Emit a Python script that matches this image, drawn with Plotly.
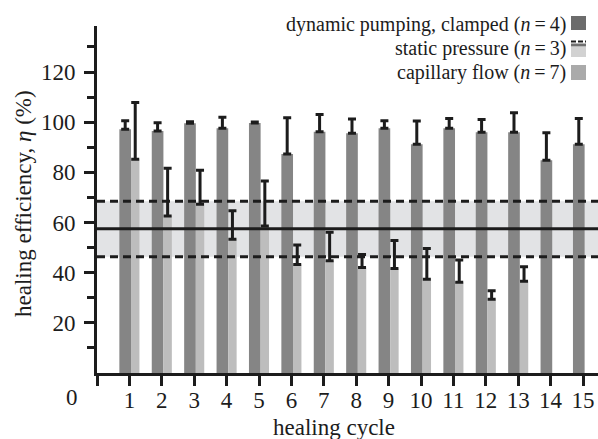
import plotly.graph_objects as go

cycles = list(range(1, 16))
dyn_mean = [97.2, 96.5, 99.6, 97.6, 99.7, 87.3, 96.2, 95.6, 97.6, 91.2, 97.6, 96.0, 96.0, 84.8, 91.2]
dyn_err = [3.4, 3.3, 0.6, 4.4, 0.4, 14.5, 6.9, 5.7, 3.0, 9.3, 3.9, 5.1, 7.8, 11.0, 10.3]

cap_cycles = list(range(1, 14))
cap_mean = [85.2, 62.6, 67.3, 53.3, 58.6, 43.3, 44.8, 42.1, 41.7, 37.4, 36.2, 29.4, 36.6]
cap_err = [22.7, 19.0, 13.5, 11.4, 18.0, 7.7, 11.3, 5.1, 11.1, 12.2, 8.9, 3.4, 5.8]

static_mean = 57.5
static_upper = 68.5
static_lower = 46.4

x_ticks = list(range(0, 16))
x_ticktext = [""] + [str(c) for c in cycles]
y_ticks = [20, 40, 60, 80, 100, 120]
y_minor = [10, 30, 50, 70, 90, 110, 130]

legend_labels = [
    "dynamic pumping, clamped (<i>n</i>\u2009=\u20094)",
    "static pressure (<i>n</i>\u2009=\u20093)",
    "capillary flow (<i>n</i>\u2009=\u20097)",
]

FONT = "Liberation Serif, DejaVu Serif, serif"
INK = "#1c1c1c"
DARK = "#858585"
LIGHT = "#bdbdbd"
FS = 23
LFS = 20

# plot area geometry in pixels (for converting overlay elements)
L, R, T, B = 97, 598, 26, 373
W, H = R - L, B - T


def px(x):
    return (x - L) / W


def py(y):
    return (B - y) / H


fig = go.Figure()
fig.add_trace(go.Bar(
    x=cycles, y=dyn_mean, offset=-0.31, width=0.36,
    marker=dict(color=DARK, line=dict(width=0)),
    error_y=dict(type="data", symmetric=False, array=dyn_err,
                 arrayminus=[0] * len(dyn_err), color=INK, thickness=3, width=4),
    showlegend=False, hoverinfo="skip",
))
fig.add_trace(go.Bar(
    x=cap_cycles, y=cap_mean, offset=0.05, width=0.26,
    marker=dict(color=LIGHT, line=dict(width=0)),
    error_y=dict(type="data", symmetric=False, array=cap_err,
                 arrayminus=[0] * len(cap_err), color=INK, thickness=3, width=4),
    showlegend=False, hoverinfo="skip",
))

shapes = [
    dict(type="rect", xref="paper", x0=0, x1=1, yref="y", y0=static_lower, y1=static_upper,
         fillcolor="#e2e3e5", line=dict(width=0), layer="below"),
    dict(type="line", xref="paper", x0=0, x1=1, yref="y", y0=static_mean, y1=static_mean,
         line=dict(color=INK, width=3)),
    dict(type="line", xref="paper", x0=0, x1=1, yref="y", y0=static_upper, y1=static_upper,
         line=dict(color=INK, width=3, dash="8px,5px")),
    dict(type="line", xref="paper", x0=0, x1=1, yref="y", y0=static_lower, y1=static_lower,
         line=dict(color=INK, width=3, dash="8px,5px")),
    # legend swatches
    dict(type="rect", xref="paper", yref="paper", x0=px(571), x1=px(586), y0=py(30), y1=py(16),
         fillcolor="#6c6c6c", line=dict(width=0)),
    dict(type="rect", xref="paper", yref="paper", x0=px(571), x1=px(586), y0=py(57), y1=py(47),
         fillcolor="#d2d2d2", line=dict(width=0)),
    dict(type="line", xref="paper", yref="paper", x0=px(571), x1=px(586), y0=py(45), y1=py(45),
         line=dict(color="#707070", width=3)),
    dict(type="line", xref="paper", yref="paper", x0=px(571), x1=px(586), y0=py(41.5), y1=py(41.5),
         line=dict(color=INK, width=2, dash="5px,2px")),
    dict(type="rect", xref="paper", yref="paper", x0=px(571), x1=px(586), y0=py(80), y1=py(65),
         fillcolor="#aaaaaa", line=dict(width=0)),
]

annotations = []
for lbl, yc in zip(legend_labels, [25, 48, 72]):
    annotations.append(dict(text=lbl, xref="paper", yref="paper", x=px(567.5), y=py(yc),
                            xanchor="right", yanchor="middle", showarrow=False,
                            font=dict(family=FONT, size=LFS, color=INK)))
annotations.append(dict(text="0", xref="paper", yref="paper", x=px(72), y=py(397),
                        xanchor="center", yanchor="middle", showarrow=False,
                        font=dict(family=FONT, size=FS, color=INK)))
annotations.append(dict(text="healing cycle", xref="paper", yref="paper", x=px(334), y=py(427),
                        xanchor="center", yanchor="middle", showarrow=False,
                        font=dict(family=FONT, size=FS, color=INK)))
annotations.append(dict(text="healing efficiency, <i>η</i> (%)", xref="paper", yref="paper",
                        x=px(23), y=py(204), textangle=-90,
                        xanchor="center", yanchor="middle", showarrow=False,
                        font=dict(family=FONT, size=FS, color=INK)))

fig.update_layout(
    width=598, height=439,
    margin=dict(l=L, r=598 - R, t=T, b=439 - B),
    paper_bgcolor="white", plot_bgcolor="white",
    barmode="overlay",
    shapes=shapes, annotations=annotations,
    font=dict(family=FONT, size=FS, color=INK),
    xaxis=dict(range=[0, W / 32.4], tickmode="array", tickvals=x_ticks, ticktext=x_ticktext,
               showline=True, linewidth=3, linecolor=INK, ticks="outside", ticklen=10,
               tickwidth=3, tickcolor=INK, showgrid=False, zeroline=False,
               ticklabelstandoff=-6,
               tickfont=dict(family=FONT, size=FS, color=INK)),
    yaxis=dict(range=[0, H / 2.508], tickmode="array", tickvals=y_ticks,
               showline=True, linewidth=3, linecolor=INK, ticks="outside", ticklen=10,
               tickwidth=3, tickcolor=INK, showgrid=False, zeroline=False,
               ticklabelstandoff=4,
               minor=dict(tickmode="array", tickvals=y_minor, ticks="outside", ticklen=7,
                          tickwidth=3, tickcolor=INK, showgrid=False),
               tickfont=dict(family=FONT, size=FS, color=INK)),
)

fig.write_html("out.html", config={"displayModeBar": False},
               post_script="document.body.style.margin='0';")
